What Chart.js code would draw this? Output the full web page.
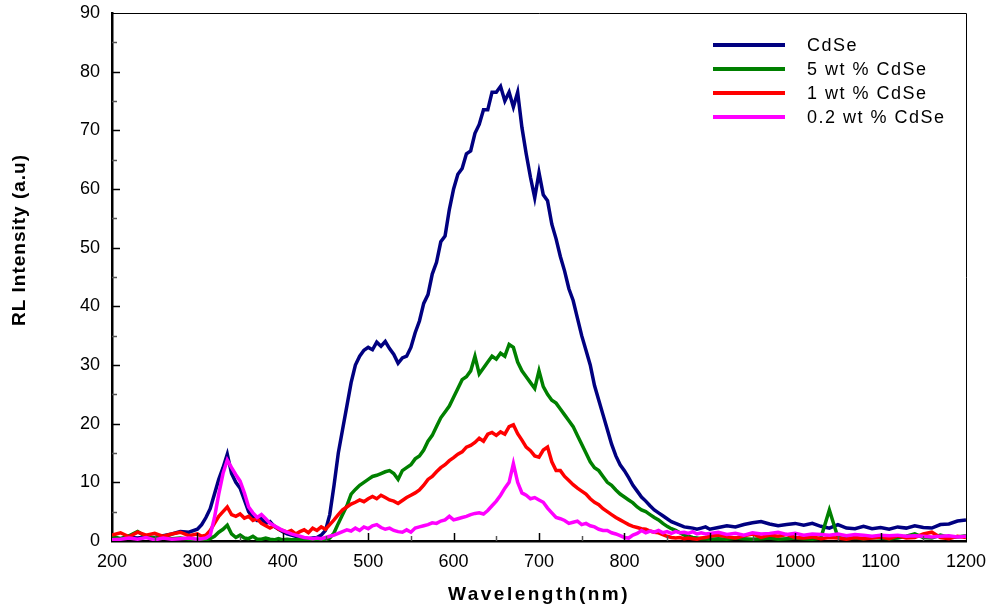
<!DOCTYPE html>
<html>
<head>
  <title>RL Intensity</title>
  <script src="https://cdn.jsdelivr.net/npm/chart.js@4.4.0/dist/chart.umd.min.js"></script>
  <style>body{margin:0;background:#fff}</style>
</head>
<body>
  <canvas id="rlChart" width="989" height="606"></canvas>

  <script>
    // wavelength grid (nm)
    const wavelengths = [200,210,220,230,240,250,260,270,280,290,
      300,305,310,315,320,325,330,335,340,345,350,355,360,365,370,375,380,385,390,395,
      400,405,410,415,420,425,430,435,440,445,450,455,460,465,470,475,480,485,490,495,
      500,505,510,515,520,525,530,535,540,545,550,555,560,565,570,575,580,585,590,595,
      600,605,610,615,620,625,630,635,640,645,650,655,660,665,670,675,680,685,690,695,
      700,705,710,715,720,725,730,735,740,745,750,755,760,765,770,775,780,785,790,795,
      800,805,810,815,820,825,830,835,840,845,850,855,860,865,870,875,880,885,890,895,900,
      910,920,930,940,950,960,970,980,990,1000,1010,1020,1030,1040,1050,1060,1070,1080,1090,1100,
      1110,1120,1130,1140,1150,1160,1170,1180,1190,1200];

    const cdse = [0.5,0.4,0.6,0.5,0.7,0.6,0.9,1.2,1.6,1.5,
      2.0,2.8,4.0,5.5,8.0,10.5,12.5,14.8,11.5,10.0,9.0,7.0,5.0,4.0,3.5,3.8,3.0,3.3,2.5,2.0,
      1.6,1.2,1.0,0.8,0.6,0.5,0.4,0.5,0.6,1.0,1.8,4.5,9.5,15,19,23,27,30,31.5,32.5,
      33,32.6,33.9,33.2,34,32.8,31.8,30.3,31.2,31.5,33,35.5,37.5,40.5,42,45.5,47.5,51,52,56.5,
      60,62.5,63.5,66,66.5,69.5,71,73.5,73.5,76.5,76.5,77.5,75,76.5,74,76.5,70.5,66,62,58.5,
      62.8,59,58,54,51.5,48.5,46,43,41,38,35,32.5,30,26.5,24,21.5,19,16.5,14.5,13,
      12,10.8,9.5,8.5,7.5,6.8,6,5.3,4.8,4.3,3.8,3.3,3,2.7,2.4,2.3,2.2,2,2.2,2.4,2,
      2.3,2.6,2.4,2.8,3.1,3.3,2.9,2.6,2.8,3,2.7,3,2.5,2.2,2.8,2.2,2.1,2.5,2.1,2.3,
      2,2.4,2.2,2.6,2.3,2.2,2.8,2.9,3.4,3.6];

    const cdse5 = [0.8,0.4,0.9,1.6,0.7,0.5,0.8,0.4,0.5,0.3,
      0.2,0.3,0.2,0.4,0.8,1.5,2.0,2.7,1.2,0.6,1.0,0.5,0.4,0.8,0.3,0.3,0.5,0.3,0.2,0.4,
      0.2,0.3,0.2,0.2,0.3,0.2,0.2,0.2,0.3,0.3,0.2,0.5,1.4,3,4.5,6,8,8.8,9.5,10,
      10.5,11,11.2,11.5,11.8,12,11.5,10.5,12,12.5,13,14,14.5,15.5,17,18,19.5,21,22,23,
      24.5,26,27.5,28,29,31.5,28.5,29.5,30.5,31.5,31,32,31.5,33.5,33,30.5,29,28,27,26,
      29,26.3,25,24,23.5,22.5,21.5,20.5,19.5,18,16.5,15,13.5,12.5,12,11,10,9.5,8.7,8,
      7.5,7,6.5,5.8,5.3,5,4.5,4,3.6,3,2.5,2.1,1.8,1.4,1,0.8,0.6,0.5,0.4,0.4,0.3,
      0.4,0.3,0.5,0.4,0.3,0.4,0.5,0.3,0.4,0.5,0.4,0.3,0.5,5.3,0.6,0.4,0.5,0.4,0.6,0.5,
      0.4,0.5,0.8,1.2,0.6,0.5,1,0.6,0.7,0.9];

    const cdse1 = [1.0,1.4,0.7,1.5,1.0,1.3,0.8,1.2,1.5,0.9,
      1.2,0.8,1.0,1.8,3.0,4.2,5.0,5.8,4.5,4.2,4.6,3.9,4.2,3.5,3.8,3.0,2.6,2.2,2.6,2.0,
      1.8,1.5,1.8,1.2,1.6,1.9,1.4,2.2,1.8,2.4,2.0,2.8,3.6,4.5,5.3,5.8,6.3,6.6,7,6.7,
      7.2,7.6,7.2,7.8,7.4,7.0,6.8,6.4,6.9,7.4,7.8,8.2,8.7,9.5,10.5,11,11.8,12.5,13,13.7,
      14.2,14.8,15.2,16,16.3,16.8,17.5,17,18.2,18.5,18,18.6,18.2,19.5,19.8,18.3,17.2,16,15.4,14.5,
      14.3,15.5,16,13.5,12,12,11,10.3,9.6,9,8.5,8,7.2,6.6,6.2,5.5,5,4.5,4,3.6,
      3.2,2.8,2.5,2.3,2.1,2,1.7,1.5,1.4,1.1,0.8,0.6,0.5,0.6,0.4,0.5,0.4,0.3,0.5,0.6,0.8,
      1.0,0.7,0.5,0.9,1.2,0.6,1.0,0.8,1.1,0.6,0.5,0.7,0.4,0.6,0.5,0.3,0.6,0.4,0.5,0.7,
      0.4,0.9,0.5,0.6,1.2,1.5,0.6,0.4,0.8,0.6];

    const cdse02 = [0.2,0.3,0.5,0.3,0.6,0.2,0.5,0.3,0.4,0.5,
      0.3,0.4,0.5,1.0,4.0,8.0,11.5,13.8,12.5,11.3,10.2,8.2,5.8,4.8,4.0,4.5,3.8,3.0,2.6,2.2,
      1.8,1.5,1.2,1.0,0.8,0.6,0.5,0.4,0.5,0.4,0.6,0.8,1.0,1.3,1.6,1.9,1.7,2.2,1.8,2.4,
      2.1,2.6,2.8,2.3,2.0,2.2,1.8,1.6,1.5,1.9,1.5,2.2,2.4,2.6,2.8,3.1,3.0,3.4,3.6,4.2,
      3.6,3.8,4.0,4.2,4.5,4.7,4.8,4.6,5.2,6.0,6.8,7.8,9.0,10,13.2,10,8.2,7.8,7.2,7.4,
      7.0,6.6,5.6,4.8,4.0,3.8,3.5,3.0,3.2,3.4,2.8,3.0,2.6,2.4,2.0,1.8,1.8,1.4,1.2,0.9,
      0.6,0.5,1.0,1.3,1.8,1.4,1.7,1.5,1.8,1.4,1.6,1.3,1.6,1.4,1.5,1.3,1.6,1.2,1.4,1.2,1.3,
      1.5,1.1,1.3,1.0,1.4,1.2,1.3,1.5,1.1,1.3,1.0,1.2,1.1,1.0,1.2,0.9,1.1,1.0,0.8,1.0,
      0.9,1.0,0.8,0.9,0.8,0.7,0.8,0.9,0.7,0.8];

    const seriesNames = ['CdSe', '5 wt % CdSe', '1 wt % CdSe', '0.2 wt % CdSe'];
    const seriesColors = ['#000080', '#008000', '#ff0000', '#ff00ff'];
    const seriesValues = [cdse, cdse5, cdse1, cdse02];

    const FONT = 'Arial, "Liberation Sans", sans-serif';

    // inward ticks, thin frame on top/right, axis titles and legend
    const decor = {
      id: 'decor',
      afterDraw(chart) {
        const ctx = chart.ctx;
        const a = chart.chartArea;
        const xs = chart.scales.x, ys = chart.scales.y;
        ctx.save();
        ctx.strokeStyle = '#000';
        ctx.lineWidth = 1;
        ctx.beginPath();
        ctx.moveTo(a.left, a.top + 0.5);
        ctx.lineTo(a.right + 0.5, a.top + 0.5);
        ctx.lineTo(a.right + 0.5, a.bottom);
        ctx.stroke();

        ctx.lineWidth = 1.5;
        for (let v = 250; v < 1200; v += 50) {
          const px = Math.round(xs.getPixelForValue(v)) + 0.5;
          const len = v % 100 === 0 ? 8 : 5;
          ctx.strokeStyle = v % 100 === 0 ? '#000' : '#555';
          ctx.beginPath();
          ctx.moveTo(px, a.bottom);
          ctx.lineTo(px, a.bottom - len);
          ctx.stroke();
        }
        for (let v = 5; v < 90; v += 5) {
          const py = Math.round(ys.getPixelForValue(v)) + 0.5;
          const len = v % 10 === 0 ? 8 : 5;
          ctx.strokeStyle = v % 10 === 0 ? '#000' : '#555';
          ctx.beginPath();
          ctx.moveTo(a.left, py);
          ctx.lineTo(a.left + len, py);
          ctx.stroke();
        }

        // axis titles
        ctx.fillStyle = '#000';
        ctx.font = 'bold 19px ' + FONT;
        ctx.textAlign = 'center';
        ctx.textBaseline = 'middle';
        ctx.letterSpacing = '2.5px';
        ctx.fillText('Wavelength(nm)', (a.left + a.right) / 2, 595);
        ctx.letterSpacing = '1px';
        ctx.save();
        ctx.translate(20, 240);
        ctx.rotate(-Math.PI / 2);
        ctx.font = 'bold 19px ' + FONT;
        ctx.fillText('RL Intensity (a.u)', 0, 0);
        ctx.restore();

        // legend
        ctx.font = '18px ' + FONT;
        ctx.letterSpacing = '1.5px';
        ctx.textAlign = 'left';
        seriesNames.forEach((name, i) => {
          const y = 45 + i * 24;
          ctx.strokeStyle = seriesColors[i];
          ctx.lineWidth = 4;
          ctx.beginPath();
          ctx.moveTo(713, y);
          ctx.lineTo(785, y);
          ctx.stroke();
          ctx.fillStyle = '#000';
          ctx.fillText(name, 807, y + 1);
        });
        ctx.restore();
      }
    };

    // magenta drawn on top, navy at the bottom
    const datasets = seriesNames.map((name, i) => ({
      label: name,
      data: wavelengths.map((w, j) => ({ x: w, y: seriesValues[i][j] })),
      borderColor: seriesColors[i],
      borderWidth: 3.5,
      pointRadius: 0,
      tension: 0,
      fill: false,
      order: seriesNames.length - i
    }));

    const tickFont = { size: 18, family: FONT };

    new Chart(document.getElementById('rlChart').getContext('2d'), {
      type: 'line',
      data: { datasets: datasets },
      options: {
        responsive: false,
        animation: false,
        layout: { padding: { top: 13, right: 23, left: 0, bottom: 0 } },
        plugins: { legend: { display: false }, tooltip: { enabled: false } },
        scales: {
          x: {
            type: 'linear',
            min: 200,
            max: 1200,
            afterFit(s) { s.height = 65; s.paddingLeft = 0; s.paddingRight = 0; },
            ticks: { stepSize: 100, color: '#000', font: tickFont, padding: 10, maxRotation: 0,
                     callback: v => String(v) },
            grid: { display: false, drawTicks: false },
            border: { color: '#000', width: 2.5 }
          },
          y: {
            min: 0,
            max: 90,
            afterFit(s) { s.width = 112; s.paddingTop = 0; s.paddingBottom = 0; },
            ticks: { stepSize: 10, color: '#000', font: tickFont, padding: 12 },
            grid: { display: false, drawTicks: false },
            border: { color: '#000', width: 2.5 }
          }
        }
      },
      plugins: [decor]
    });
  </script>
</body>
</html>
